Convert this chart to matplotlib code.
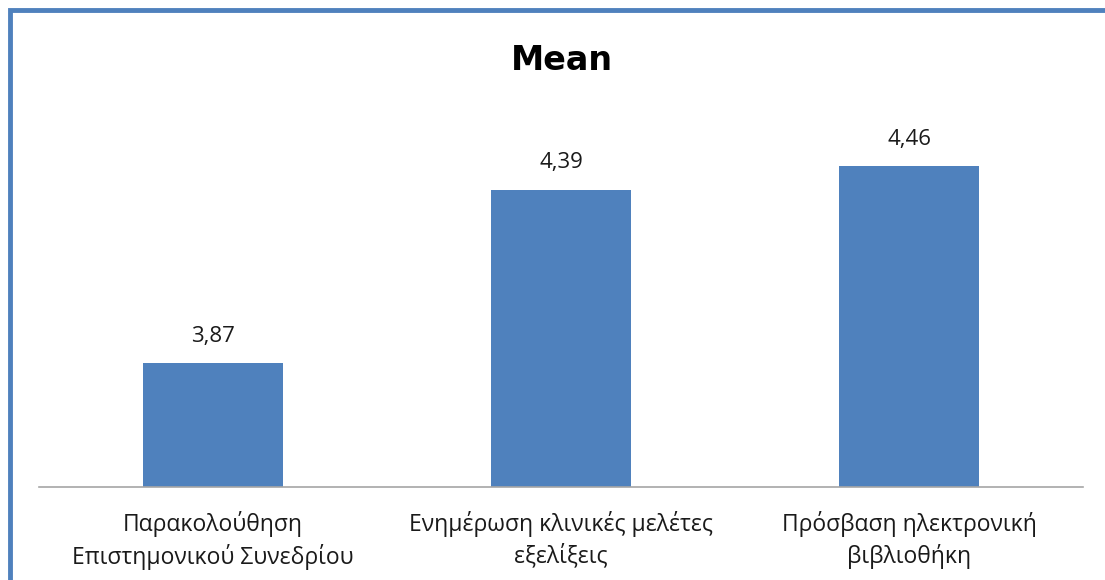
import matplotlib.pyplot as plt
from matplotlib.patches import Rectangle

plt.rcParams['font.family'] = ['Open Sans', 'DejaVu Sans']

categories = ['Παρακολούθηση\nΕπιστημονικού Συνεδρίου',
              'Ενημέρωση κλινικές μελέτες\nεξελίξεις',
              'Πρόσβαση ηλεκτρονική\nβιβλιοθήκη']
means = [3.87, 4.39, 4.46]

bar_color = '#4F81BD'

fig = plt.figure(figsize=(11.05, 5.8), dpi=100)
W, H = 1105, 580
ax = fig.add_axes([39 / W, (H - 487) / H, (1083 - 39) / W, (487 - 86) / H])

x = range(len(categories))
bars = ax.bar(x, means, width=0.403, color=bar_color)
ax.set_ylim(3.5, 4.7)
ax.set_xlim(-0.5, len(categories) - 0.5)

for b, v in zip(bars, means):
    ax.annotate(f'{v:.2f}'.replace('.', ','), (b.get_x() + b.get_width() / 2, v),
                xytext=(0, 12), textcoords='offset points',
                ha='center', va='bottom', fontsize=16, color='#1a1a1a')

for s in ['top', 'right', 'left']:
    ax.spines[s].set_visible(False)
ax.spines['bottom'].set_color('#A6A6A6')
ax.spines['bottom'].set_linewidth(1.2)
ax.set_yticks([])
ax.set_xticks(list(x))
ax.set_xticklabels(categories, fontsize=16.5, color='#1a1a1a', linespacing=1.33)
ax.tick_params(axis='x', length=0, pad=17.5)

fig.text(562 / W, 1 - 61 / H, 'Mean', ha='center', va='center',
         fontsize=24, fontweight='bold', family='DejaVu Sans')

# blue frame; only its top and left edges fall inside the figure
fig.add_artist(Rectangle((10 / W, -0.2), 1.2, 1.2 - 9.5 / H, transform=fig.transFigure,
                         fill=False, edgecolor=bar_color, linewidth=3.5))

fig.savefig('out.png', dpi=100)
